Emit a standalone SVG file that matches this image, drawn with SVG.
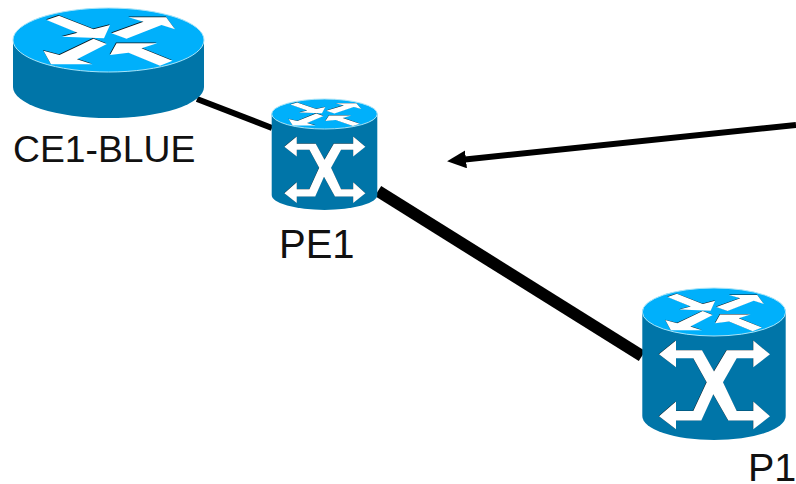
<svg xmlns="http://www.w3.org/2000/svg" width="796" height="484" viewBox="0 0 796 484">
<style>
.body{fill:#0075a8}
.top{fill:#00b0fb;stroke:#a8e4f8;stroke-width:1}
.wl{fill:#fff}
.sh{fill:#0a1a22}
.lbl{font-family:"Liberation Sans",Arial,sans-serif;fill:#111}
.ln{stroke:#000;fill:none}
</style>
<defs>
<marker id="ah" markerUnits="userSpaceOnUse" markerWidth="19" markerHeight="18" refX="1" refY="9" orient="auto" viewBox="0 0 19 18"><path d="M0,0L19,9L0,18z" fill="#000"/></marker>
<g id="ta">
<polygon points="-62,-20 -49.500,-24.300 -15,-10.700 1.500,-15 -4.500,-1.700 -46.500,-3.300 -31,-7.300"/>
<polygon points="3,-6.700 35,-18.300 20,-22.700 57.700,-22.700 66.500,-10.700 53,-15 18,-1.300"/>
<polygon points="-65,10.700 -49,15 -15,-1.300 -1.700,4 -31.500,19.300 -16,24.300 -57.500,24.300"/>
<polygon points="1.500,15 8,3.300 48.700,3.300 33,8.300 64,20.700 51.500,25.700 20,12.700"/>
</g>
<polygon id="xa" points="-55,-31 -38,-44.700 -38,-35 -12,-35 0,-13.700 12.700,-35 39.300,-35 39.300,-44.700 56,-31 39.300,-18 39.300,-27 22.700,-27 9,-3 22.700,25.700 39.300,25.700 39.300,16.300 56,31 39.300,44 39.300,35.300 14.300,35.300 -0.700,9 -12.700,35.300 -38,35.300 -38,44 -55,31 -38,16.300 -38,25.700 -20.700,25.700 -7.300,-3 -20.700,-27 -38,-27 -38,-18"/>
</defs>
<g id="connectors">
<line class="ln" x1="197" y1="99" x2="272" y2="128" stroke-width="6"/>
<line class="ln" x1="378" y1="191" x2="642" y2="356" stroke-width="12"/>
<line class="ln" x1="796" y1="125" x2="465" y2="159.500" stroke-width="6" marker-end="url(#ah)"/>
</g>
<g id="ce1-blue">
<path class="body" d="M13,40V87A95.500,31 0 0 0 204,87V40z"/>
<ellipse class="top" cx="108.500" cy="40" rx="95.500" ry="32"/>
<use href="#ta" class="sh" transform="translate(108,39.300)"/>
<use href="#ta" class="wl" transform="translate(108.500,40)"/>
<text class="lbl" x="13" y="162" font-size="37.300">CE1-BLUE</text>
</g>
<g id="pe1">
<path class="body" d="M271.700,114V195A52.800,15 0 0 0 377.300,195V114z"/>
<ellipse class="top" cx="324.500" cy="114" rx="52.800" ry="15"/>
<use href="#ta" class="sh" transform="translate(324.300,113.700) scale(.553,.47)"/>
<use href="#ta" class="wl" transform="translate(324.500,114) scale(.553,.47)"/>
<use href="#xa" class="sh" transform="translate(324.300,169.700) scale(.73,.75)"/>
<use href="#xa" class="wl" transform="translate(324.500,170) scale(.73,.75)"/>
<text class="lbl" x="279" y="258" font-size="40">PE1</text>
</g>
<g id="p1">
<path class="body" d="M642.300,312V416A71.700,24 0 0 0 785.700,416V312z"/>
<ellipse class="top" cx="714" cy="312" rx="71.700" ry="24"/>
<use href="#ta" class="sh" transform="translate(713.700,311.600) scale(.75,.75)"/>
<use href="#ta" class="wl" transform="translate(714,312) scale(.75,.75)"/>
<use href="#xa" class="sh" transform="translate(713.600,385)"/>
<use href="#xa" class="wl" transform="translate(714,385.300)"/>
<text class="lbl" x="748" y="481" font-size="39.500">P1</text>
</g>
</svg>
